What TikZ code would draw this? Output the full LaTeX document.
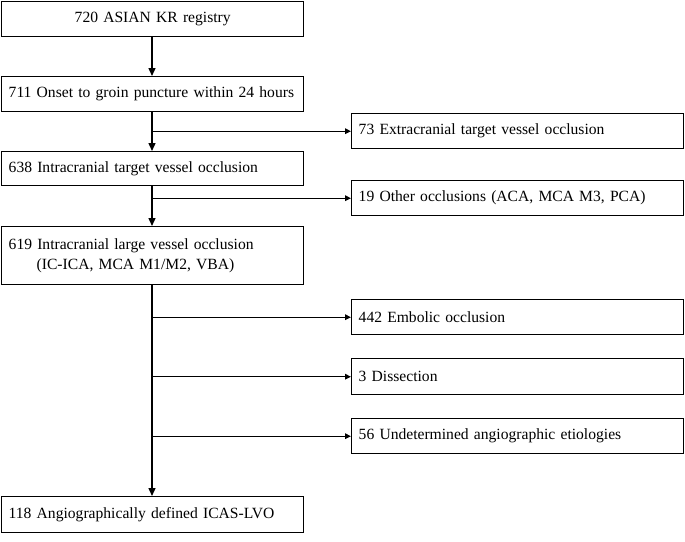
\documentclass[tikz,border=0pt]{standalone}
\usepackage{fontspec}
\setmainfont{Liberation Serif}
\usetikzlibrary{positioning,calc}
\usetikzlibrary{arrows.meta}

\begin{document}
\begin{tikzpicture}[x=1pt,y=-1pt,
         stagebox/.style = {draw,line width=1.4pt,anchor=north west,
         inner xsep=6pt,inner ysep=0pt,align=left,
         font=\fontsize{15.6}{20}\selectfont},
         leftbox/.style = {stagebox,minimum width=302pt,text width=288pt},
         rightbox/.style = {stagebox,minimum width=332pt,text width=318pt},
         flow/.style = {line width=1.4pt,-{Triangle[length=8pt,width=7pt]}},
         side/.style = {line width=1.4pt,-{Triangle[length=6pt,width=5.5pt]}}]

   \useasboundingbox (0,0) rectangle (685,541);

   % main column
   \node[leftbox,minimum height=35pt,align=center] (reg) at (1,1)
      {720 ASIAN KR registry};
   \node[leftbox,minimum height=35pt] (onset) at (1,76)
      {711 Onset to groin puncture within 24 hours};
   \node[leftbox,minimum height=34pt] (intra) at (1,151)
      {638 Intracranial target vessel occlusion};
   \node[leftbox,minimum height=58pt] (lvo) at (1,226)
      {619 Intracranial large vessel occlusion\\
       \hspace*{28pt}(IC-ICA, MCA M1/M2, VBA)};
   \node[leftbox,minimum height=36pt] (icas) at (1,496)
      {118 Angiographically defined ICAS-LVO};

   % excluded / side boxes
   \node[rightbox,minimum height=35pt] (extra) at (351,113)
      {73 Extracranial target vessel occlusion};
   \node[rightbox,minimum height=35pt] (other) at (351,180)
      {19 Other occlusions (ACA, MCA M3, PCA)};
   \node[rightbox,minimum height=35pt] (embo) at (351,299)
      {442 Embolic occlusion};
   \node[rightbox,minimum height=36pt] (diss) at (351,358)
      {3 Dissection};
   \node[rightbox,minimum height=35pt] (undet) at (351,418)
      {56 Undetermined angiographic etiologies};

   % trunk
   \draw[flow] (reg.south -| 152,0) -- (onset.north -| 152,0);
   \draw[flow] (onset.south -| 152,0) -- (intra.north -| 152,0);
   \draw[flow] (intra.south -| 152,0) -- (lvo.north -| 152,0);
   \draw[flow] (lvo.south -| 152,0) -- (icas.north -| 152,0);

   % branches
   \foreach \tgt in {extra,other,embo,diss,undet}
      \draw[side] (\tgt.west -| 152,0) -- (\tgt.west);

\end{tikzpicture}
\end{document}
